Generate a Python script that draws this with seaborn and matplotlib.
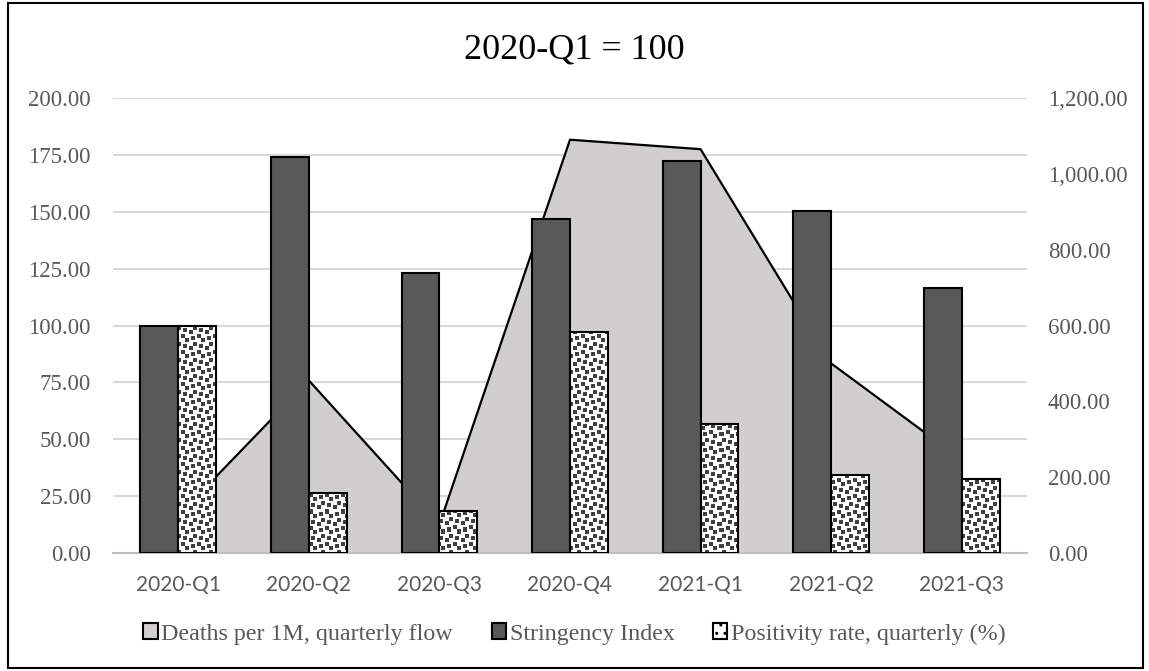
import numpy as np
import pandas as pd
import matplotlib
matplotlib.use("Agg")
import matplotlib.pyplot as plt
from matplotlib.patches import Patch, Rectangle
from matplotlib.ticker import FuncFormatter, MultipleLocator
import seaborn as sns

# ---- data ----
quarters = ["2020-Q1", "2020-Q2", "2020-Q3", "2020-Q4", "2021-Q1", "2021-Q2", "2021-Q3"]
deaths_per_1m = [98, 455, 75, 1090, 1065, 500, 246]          # right axis
stringency_index = [100, 174, 123, 147, 172.5, 150.5, 116.5]  # left axis, 2020-Q1 = 100
positivity_rate = [100, 26.5, 18.5, 97, 56.5, 34.5, 32.5]     # left axis, 2020-Q1 = 100
left_ticks = np.arange(0, 201, 25)

series_deaths = "Deaths per 1M, quarterly flow"
series_stringency = "Stringency Index"
series_positivity = "Positivity rate, quarterly (%)"

TEXT = "#595959"
SERIF = ["Liberation Serif", "DejaVu Serif"]
SANS = ["Lato", "DejaVu Sans"]

sns.set_theme(style="white")
plt.rcParams["font.family"] = SERIF

fig = plt.figure(figsize=(11.49, 6.71), dpi=100)
ax = fig.add_axes([113 / 1149, 1 - 553 / 671, 914 / 1149, 455 / 671])
ax2 = ax.twinx()

# area series on the secondary axis, kept behind the bars
ax.set_zorder(ax2.get_zorder() + 1)
ax.patch.set_visible(False)
ax2.set_ylim(0, 1200)
scale = 1200 / 200
# horizontal gridlines for the left scale, drawn beneath the area
for v in left_ticks[1:]:
    ax2.axhline(v * scale, color="#d9d9d9", linewidth=1.5, zorder=0.5)
xpos = np.arange(len(quarters))
ax2.fill_between(xpos, deaths_per_1m, 0, color="#d0cece", linewidth=0, zorder=1)
sns.lineplot(x=xpos, y=deaths_per_1m, ax=ax2, color="black", linewidth=1.6, zorder=2)
ax2.set_ylim(0, 1200)
ax2.yaxis.set_major_locator(MultipleLocator(200))
ax2.yaxis.set_major_formatter(FuncFormatter(lambda v, p: f"{v:,.2f}"))

# grouped bars on the primary axis
df = pd.DataFrame({
    "quarter": quarters * 2,
    "series": [series_stringency] * len(quarters) + [series_positivity] * len(quarters),
    "value": stringency_index + positivity_rate,
})
sns.barplot(data=df, x="quarter", y="value", hue="series", ax=ax,
            width=0.58, gap=0, dodge=True, legend=False, zorder=3)

# confetti texture for the positivity bars (8x8 tile, 2 px per cell)
tile_rows = [0x8d, 0x0c, 0xc0, 0xd8, 0x1b, 0x03, 0x30, 0xb1]
tile = np.array([[(r >> (7 - b)) & 1 for b in range(8)] for r in tile_rows])
tile = np.kron(tile, np.ones((2, 2), dtype=int))
W, H = 914, 455
mask = np.tile(tile, (H // 16 + 1, W // 16 + 1))[:H, :W]
tex = np.ones((H, W, 4))
dot = np.array([0x40, 0x40, 0x40]) / 255
tex[mask == 1, :3] = dot

string_bars, pos_bars = ax.containers[0], ax.containers[1]
for bar in string_bars:
    bar.set_facecolor("#595959")
    bar.set_edgecolor("black")
    bar.set_linewidth(1.5)
for bar in pos_bars:
    bar.set_facecolor("none")
    bar.set_edgecolor("black")
    bar.set_linewidth(1.5)
    im = ax.imshow(tex, extent=(-0.5, len(quarters) - 0.5, 0, 200), aspect="auto",
                   interpolation="nearest", zorder=2.5, origin="upper")
    im.set_clip_path(bar)
ax.set_xlim(-0.5, len(quarters) - 0.5)
ax.set_ylim(0, 200)

ax.set_yticks(left_ticks)
ax.yaxis.set_major_formatter(FuncFormatter(lambda v, p: f"{v:.2f}"))
ax.set_xlabel("")
ax.set_ylabel("")
ax2.set_ylabel("")
ax.grid(False)
ax2.grid(False)

for a in (ax, ax2):
    for s in a.spines.values():
        s.set_visible(False)
ax.spines["bottom"].set_visible(True)
ax.spines["bottom"].set_color("#bfbfbf")
ax.spines["bottom"].set_linewidth(1.5)

ax.tick_params(axis="y", length=0, pad=16, labelsize=16.5, labelcolor=TEXT)
ax2.tick_params(axis="y", length=0, pad=15, labelsize=16.5, labelcolor=TEXT)
ax.tick_params(axis="x", length=0, pad=16, labelcolor=TEXT)
for lab in ax.get_xticklabels():
    lab.set_fontfamily(SANS)
    lab.set_fontsize(15)
for lab in ax.get_yticklabels() + ax2.get_yticklabels():
    lab.set_fontfamily(SERIF)

fig.text(0.5, 1 - 50 / 671, "2020-Q1 = 100", ha="center", va="center",
         fontsize=26, color="black", family=SERIF)

handles = [
    Patch(facecolor="#d0cece", edgecolor="black", linewidth=1.5, label=series_deaths),
    Patch(facecolor="#595959", edgecolor="black", linewidth=1.5, label=series_stringency),
    Patch(facecolor="white", edgecolor="black", hatch="..", linewidth=1.5, label=series_positivity),
]
leg = fig.legend(handles=handles, loc="center", bbox_to_anchor=(0.5, 1 - 634 / 671),
                 ncol=3, frameon=False, handlelength=0.6, handleheight=0.6,
                 handletextpad=0.15, columnspacing=1.6, prop={"family": SERIF, "size": 17.3})
for t in leg.get_texts():
    t.set_color(TEXT)

fig.patches.append(Rectangle((8 / 1149, 3 / 671), 1135 / 1149, 665 / 671,
                             transform=fig.transFigure, fill=False,
                             edgecolor="black", linewidth=1.5))

fig.savefig("out.png", dpi=100)
